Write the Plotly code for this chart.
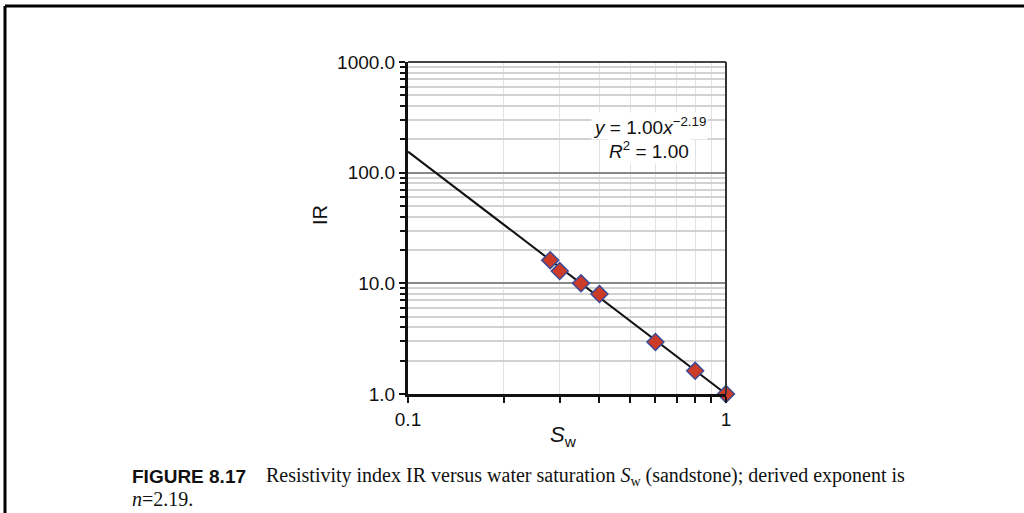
import numpy as np
import plotly.graph_objects as go

# Data
sw = [0.28, 0.30, 0.35, 0.40, 0.60, 0.80, 1.00]
ir = [16.2, 12.9, 10.0, 8.0, 2.95, 1.62, 1.0]
fit_a = 1.00
fit_n = 2.19
fit_x = [0.1, 0.2, 0.4, 0.6, 0.8, 1.0]

y_tickvals = [1, 10, 100, 1000]
y_ticktext = ["1.0", "10.0", "100.0", "1000.0"]
x_tickvals = [0.1, 1]
x_ticktext = ["0.1", "1"]

fit_y = [fit_a * v ** (-fit_n) for v in fit_x]

y_minor = [m * 10 ** d for d in range(0, 3) for m in range(2, 10)]
x_minor = [m / 10 for m in range(2, 10)]

fig = go.Figure()
fig.add_trace(go.Scatter(x=fit_x, y=fit_y, mode="lines",
                         line=dict(color="#111111", width=2), showlegend=False))
fig.add_trace(go.Scatter(x=sw, y=ir, mode="markers", cliponaxis=False,
                         marker=dict(symbol="diamond", size=13, color="#cc3b28",
                                     line=dict(color="#3b4a94", width=1.5)),
                         showlegend=False))

fig.update_layout(
    width=1024, height=513,
    margin=dict(l=408, r=298, t=62, b=119),
    paper_bgcolor="white", plot_bgcolor="white",
    font=dict(family="Liberation Sans, Arial", size=19, color="#111111"),
    xaxis=dict(type="log", range=[-1, 0], tickvals=x_tickvals, ticktext=x_ticktext,
               ticks="outside", ticklen=6, tickwidth=2, tickcolor="#111111",
               showgrid=True, gridcolor="#c8c8c8", gridwidth=1,
               minor=dict(tickvals=x_minor, ticks="outside", ticklen=6, tickwidth=2,
                          tickcolor="#111111", showgrid=True, gridcolor="#e2e2e2"),
               showline=True, linecolor="#111111", linewidth=3, mirror=False,
               zeroline=False, title=None),
    yaxis=dict(type="log", range=[0, 3], tickvals=y_tickvals, ticktext=y_ticktext,
               ticks="outside", ticklen=6, tickwidth=2, tickcolor="#111111",
               showgrid=True, gridcolor="#888888", gridwidth=1.5,
               minor=dict(tickvals=y_minor, ticks="outside", ticklen=5, tickwidth=2,
                          tickcolor="#111111", showgrid=True, gridcolor="#d2d2d2"),
               showline=True, linecolor="#111111", linewidth=3, mirror=False,
               zeroline=False, title=None),
)

# Top and right frame of plot area
fig.add_shape(type="line", xref="paper", yref="paper", x0=0, x1=1, y0=1, y1=1,
              line=dict(color="#444444", width=2))
fig.add_shape(type="line", xref="paper", yref="paper", x0=1, x1=1, y0=0, y1=1,
              line=dict(color="#333333", width=2))

# Outer page frame
fig.add_shape(type="line", xref="paper", yref="paper",
              x0=(5 - 408) / 318, x1=(1030 - 408) / 318,
              y0=(394 - 6) / 332, y1=(394 - 6) / 332,
              line=dict(color="black", width=3))
fig.add_shape(type="line", xref="paper", yref="paper",
              x0=(5 - 408) / 318, x1=(5 - 408) / 318,
              y0=(394 - 6) / 332, y1=(394 - 520) / 332,
              line=dict(color="black", width=3))

def px(x):
    return (x - 408) / 318

def py(y):
    return (394 - y) / 332

# Axis titles
fig.add_annotation(xref="paper", yref="paper", x=px(320), y=py(215),
                   xanchor="center", yanchor="middle",
                   text="IR", showarrow=False, textangle=-90,
                   font=dict(size=20, family="Liberation Sans, Arial"))
fig.add_annotation(xref="paper", yref="paper", x=px(563), y=py(436),
                   xanchor="center", yanchor="middle",
                   text="<i>S</i><sub>w</sub>", showarrow=False,
                   font=dict(size=22, family="Liberation Sans, Arial"))

# Fit equation
fig.add_annotation(xref="paper", yref="paper", x=px(649), y=py(126),
                   xanchor="center", yanchor="middle",
                   text="<i>y</i> = 1.00<i>x</i><sup>−2.19</sup>", showarrow=False,
                   bgcolor="white", font=dict(size=19, family="Liberation Sans, Arial"))
fig.add_annotation(xref="paper", yref="paper", x=px(649), y=py(150),
                   xanchor="center", yanchor="middle",
                   text="<i>R</i><sup>2</sup> = 1.00", showarrow=False,
                   bgcolor="white", font=dict(size=19, family="Liberation Sans, Arial"))

# Caption
fig.add_annotation(xref="paper", yref="paper", x=px(130), y=py(476),
                   xanchor="left", yanchor="middle",
                   text="<b>FIGURE 8.17</b>", showarrow=False,
                   font=dict(size=19, family="Liberation Sans, Arial"))
fig.add_annotation(xref="paper", yref="paper", x=px(264), y=py(476),
                   xanchor="left", yanchor="middle",
                   text="Resistivity index IR versus water saturation <i>S</i><sub>w</sub> (sandstone); derived exponent is",
                   showarrow=False,
                   font=dict(size=20, family="Liberation Serif, Times New Roman"))
fig.add_annotation(xref="paper", yref="paper", x=px(130), y=py(499),
                   xanchor="left", yanchor="middle",
                   text="<i>n</i>=2.19.", showarrow=False,
                   font=dict(size=20, family="Liberation Serif, Times New Roman"))

fig.write_html("out.html")
